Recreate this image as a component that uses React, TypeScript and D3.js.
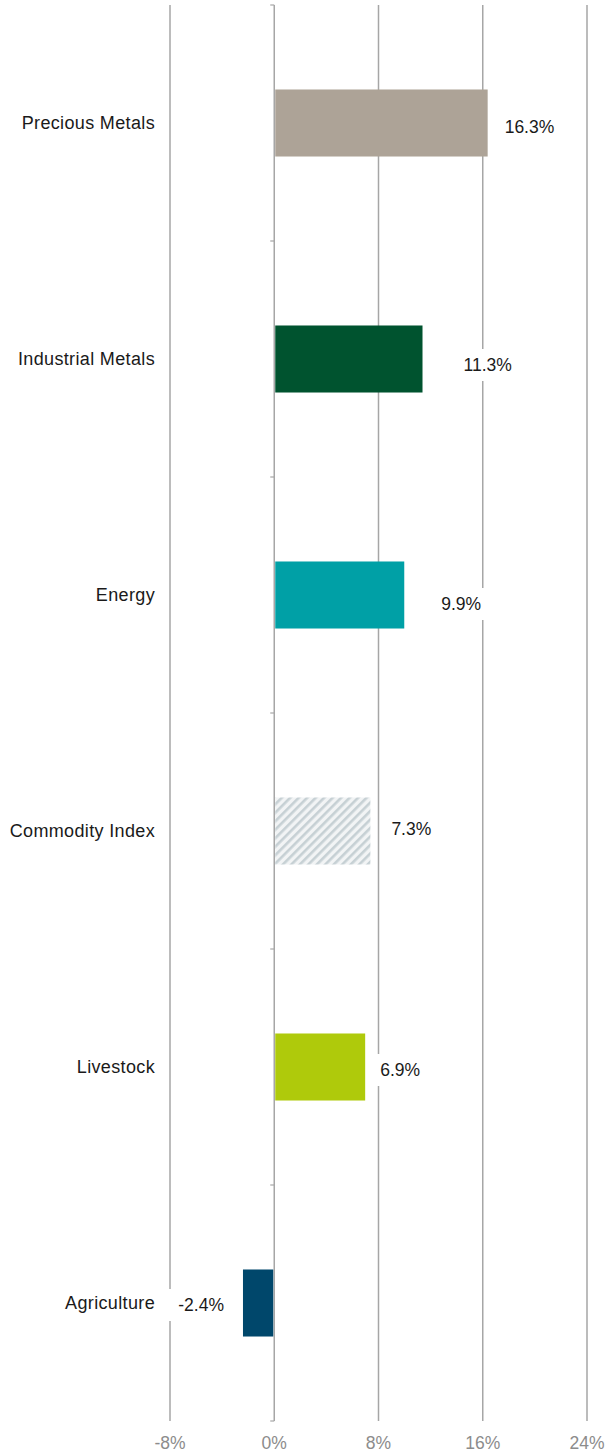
import React from "react";
import * as d3 from "d3";

const categories = ["Precious Metals", "Industrial Metals", "Energy", "Commodity Index", "Livestock", "Agriculture"];
const values = [16.3, 11.3, 9.9, 7.3, 6.9, -2.4];
const colors = ["#ADA397", "#00532F", "#00A0A6", "hatch", "#AFCA0B", "#00476B"];
const tickValues = [-8, 0, 8, 16, 24];
// label placement tweaks (pixels), as in the original manually placed labels
const labelDx = [18, 42, 38, 22, 16, -19];
const labelDy = [4, 6, 9, -2, 3, 2];

const W = 607;
const H = 1456;

export default function App() {
  const x = d3.scaleLinear().domain([-8, 24]).range([170, 587]);
  const y = d3
    .scaleBand<string>()
    .domain(categories)
    .range([5, 1421])
    .paddingInner(0.716)
    .paddingOuter(0.358);
  const font = "Arial, 'Liberation Sans', sans-serif";
  const bounds = [...categories.map((c) => (y(c) as number) - y.step() * 0.358), 1421];

  return (
    <svg
      width={W}
      height={H}
      style={{ position: "absolute", left: 0, top: 0, background: "#fff" }}
      fontFamily={font}
    >
      <defs>
        <pattern id="hatch" patternUnits="userSpaceOnUse" width="6" height="6" patternTransform="rotate(45)">
          <rect width="6" height="6" fill="#f2f4f5" />
          <rect width="2.6" height="6" fill="#c6d0d4" />
        </pattern>
      </defs>
      {/* gridlines */}
      {tickValues
        .filter((t) => t !== 0)
        .map((t) => (
          <line key={t} x1={x(t)} x2={x(t)} y1={5} y2={1421} stroke="#a6a6a6" strokeWidth={1.5} />
        ))}
      {/* zero axis */}
      <line x1={x(0)} x2={x(0)} y1={5} y2={1421} stroke="#a6a6a6" strokeWidth={1.5} />
      {bounds.map((b, i) => (
        <line key={i} x1={x(0) - 4} x2={x(0)} y1={b} y2={b} stroke="#a6a6a6" strokeWidth={1.2} />
      ))}
      {/* bars */}
      {categories.map((c, i) => {
        const v = values[i];
        const x0 = v >= 0 ? x(0) + 1 : x(v);
        const w = Math.abs(x(v) - x(0)) - (v >= 0 ? 0 : 1);
        return (
          <rect
            key={c}
            x={x0}
            y={y(c)}
            width={w}
            height={y.bandwidth()}
            fill={colors[i] === "hatch" ? "url(#hatch)" : colors[i]}
          />
        );
      })}
      {/* value labels */}
      {categories.map((c, i) => {
        const v = values[i];
        const cy = (y(c) as number) + y.bandwidth() / 2 + labelDy[i];
        const txt = `${v.toFixed(1)}%`;
        const tw = txt.length * 10.2;
        const anchorStart = v >= 0;
        const tx = x(v) + labelDx[i];
        const bx = anchorStart ? tx - 7 : tx - tw - 7;
        return (
          <g key={c}>
            <rect x={bx} y={cy - 16} width={tw + 14} height={32} fill="#fff" />
            <text
              x={tx}
              y={cy}
              dy="0.35em"
              fontSize={17.5}
              fill="#1a1a1a"
              textAnchor={anchorStart ? "start" : "end"}
            >
              {txt}
            </text>
          </g>
        );
      })}
      {/* category labels */}
      {categories.map((c) => (
        <text
          key={c}
          x={155}
          y={(y(c) as number) + y.bandwidth() / 2}
          dy="0.35em"
          fontSize={18}
          letterSpacing={0.35}
          fill="#1a1a1a"
          textAnchor="end"
        >
          {c}
        </text>
      ))}
      {/* x tick labels */}
      {tickValues.map((t) => (
        <text key={t} x={x(t)} y={1449} fontSize={17.5} fill="#8c8c8c" textAnchor="middle">
          {`${t}%`}
        </text>
      ))}
    </svg>
  );
}
